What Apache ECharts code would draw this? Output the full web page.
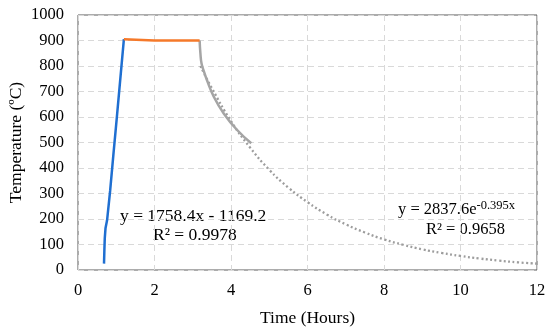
<!DOCTYPE html>
<html>
<head>
<meta charset="utf-8">
<script src="https://cdn.jsdelivr.net/npm/echarts@6/dist/echarts.min.js"></script>
<style>html,body{margin:0;padding:0;background:#fff}#c{width:550px;height:333px}</style>
</head>
<body>
<div id="c"></div>
<script>
// Heating (blue), holding (orange), cooling (gray solid), exponential trend (gray dotted)
var heating = [[0.68,25],[0.69,80],[0.70,125],[0.72,165],[0.76,195],[0.84,310],[0.93,460],[1.01,590],[1.2,905]];
var holding = [[1.2,905],[1.25,900],[2.0,900],[3.18,900]];
var cooling = [[3.18,900],[3.2,850],[3.23,810],[3.3,775],[3.37,745],[3.55,680],[3.81,614],[4.16,549],[4.53,497]];
var trendX = [3.2,3.5,4,4.5,5,5.5,6,6.5,7,7.5,8,8.5,9,9.5,10,10.5,11,11.5,12];
var trendY = [800,713,584,480,393,323,266,218,179,147,120,99,81,67,55,45,37,30,25];
var xTicks = [0,2,4,6,8,10,12];
var yTicks = [0,100,200,300,400,500,600,700,800,900,1000];

var trend = trendX.map(function(x,i){return [x,trendY[i]];});
var font = '"Liberation Serif","Times New Roman",serif';
var chart = echarts.init(document.getElementById('c'));
chart.setOption({
  animation:false,
  backgroundColor:'#fff',
  grid:{left:78,right:13,top:15,bottom:63,show:true,borderColor:'#595959',borderWidth:1,backgroundColor:'transparent',containLabel:false,outerBoundsMode:'none'},
  xAxis:{type:'value',min:xTicks[0],max:xTicks[xTicks.length-1],interval:2,
    name:'Time (Hours)',nameLocation:'middle',nameGap:39,nameMoveOverlap:false,
    nameTextStyle:{fontFamily:font,fontSize:17.5,color:'#000'},
    axisLine:{show:false},axisTick:{show:false},
    axisLabel:{fontFamily:font,fontSize:16.5,color:'#000',margin:12,formatter:function(v){return String(v);}},
    splitLine:{show:true,lineStyle:{color:'#d9d9d9',type:[6,4],width:1}}},
  yAxis:{type:'value',min:yTicks[0],max:yTicks[yTicks.length-1],interval:100,
    name:'Temperature (ºC)',nameLocation:'middle',nameGap:53,nameMoveOverlap:false,
    nameTextStyle:{fontFamily:font,fontSize:17.5,color:'#000'},
    axisLine:{show:false},axisTick:{show:false},
    axisLabel:{fontFamily:font,fontSize:16.5,color:'#000',margin:14,formatter:function(v){return String(v);}},
    splitLine:{show:true,lineStyle:{color:'#d9d9d9',type:[6,4],width:1}}},
  series:[
    {type:'line',data:trend,showSymbol:false,smooth:true,z:1,lineStyle:{color:'#9d9d9d',width:2.3,type:[2,2.5]}},
    {type:'line',data:heating,showSymbol:false,lineStyle:{color:'#1f6fd1',width:2.5},z:3},
    {type:'line',data:holding,showSymbol:false,lineStyle:{color:'#f5792a',width:2.5},z:3},
    {type:'line',data:cooling,showSymbol:false,smooth:true,lineStyle:{color:'#a5a5a5',width:2.5},z:2}
  ],
  graphic:[
    {type:'text',left:120,top:207,style:{text:'y = 1758.4x - 1169.2',font:'17.5px '+font,fill:'#000'}},
    {type:'text',left:153,top:226,style:{text:'R² = 0.9978',font:'17.5px '+font,fill:'#000'}},
    {type:'text',left:398,top:199,style:{rich:{a:{fontFamily:font,fontSize:16.5,color:'#000'},s:{fontFamily:font,fontSize:12.5,color:'#000',verticalAlign:'top',padding:[0,0,9,0]}},text:'{a|y = 2837.6e}{s|-0.395x}'}},
    {type:'text',left:426,top:221,style:{text:'R² = 0.9658',font:'16.5px '+font,fill:'#000'}}
  ]
});
</script>
</body>
</html>
